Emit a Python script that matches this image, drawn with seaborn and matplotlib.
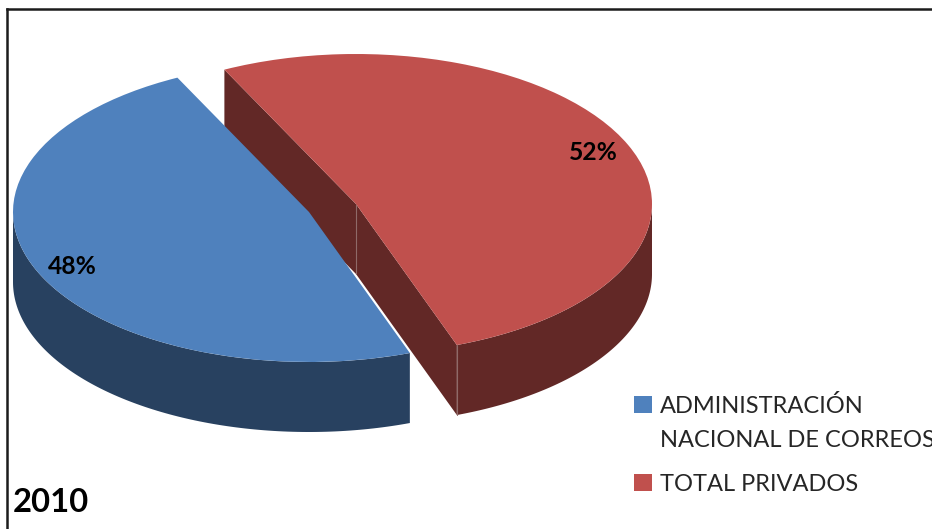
import numpy as np
import matplotlib
matplotlib.use("Agg")
import matplotlib.pyplot as plt
from matplotlib.patches import Patch
import seaborn as sns

categories = ["ADMINISTRACIÓN\nNACIONAL DE CORREOS", "TOTAL PRIVADOS"]
shares = [48.2, 51.8]
year_label = "2010"
colors_top = ["#4F81BD", "#C0504D"]
colors_side = ["#284160", "#622826"]

sns.set_theme(style="white")
plt.rcParams["font.family"] = ["Lato", "DejaVu Sans"]

W, H = 932, 529
RX, RY = 296, 150           # pixel size of one pie radius on screen
CX, CY = 309, 212           # pixel position of the pie centre
DEPTH = 70 / RY             # extrusion
START = 116.4
OFFSET = (47 / RX, 8 / RY)  # how far the second slice is pulled out

fig = plt.figure(figsize=(W / 100, H / 100), dpi=100, facecolor="white")
ax = fig.add_axes([7 / W, 0, (W - 7) / W, (H - 9) / H])

wedges, _ = ax.pie(shares, colors=colors_top, startangle=START, counterclock=True,
                   radius=1, wedgeprops=dict(linewidth=0), frame=True)
wedges[1].set_center(OFFSET)
ax.set_aspect("auto")
ax.set_xlim((7 - CX) / RX, (W - CX) / RX)
ax.set_ylim((CY - H) / RY, (CY - 9) / RY)
ax.set_xticks([])
ax.set_yticks([])
for name, sp in ax.spines.items():
    sp.set_visible(name in ("top", "left"))
    sp.set_color("#1c1c1c")
    sp.set_linewidth(1.8)

total = sum(shares)
a0 = START
a1 = START + 360 * shares[0] / total
a2 = START + 360


def pt(angle, centre=(0, 0), drop=0.0):
    t = np.radians(angle)
    return centre[0] + np.cos(t), centre[1] + np.sin(t) - drop


def outer_wall(a_from, a_to, centre, color, z):
    t = np.radians(np.linspace(a_from, a_to, 120))
    xs = centre[0] + np.cos(t)
    ys = centre[1] + np.sin(t)
    ax.fill(np.r_[xs, xs[::-1]], np.r_[ys, ys[::-1] - DEPTH], color=color, lw=0, zorder=z)


# walls of the pulled-out slice, below the other slice
cx_r, cy_r = OFFSET
for ang in (a1, a2):
    px, py = pt(ang, OFFSET)
    ax.fill([cx_r, px, px, cx_r], [cy_r, py, py - DEPTH, cy_r - DEPTH],
            color=colors_side[1], lw=0, zorder=0.5)
outer_wall(a1, 360, OFFSET, colors_side[1], 0.5)
for x_edge, y_top in [(cx_r, cy_r), (pt(a1, OFFSET)[0], pt(a1, OFFSET)[1])]:
    ax.plot([x_edge, x_edge], [y_top, y_top - DEPTH], color="#8f6a68", lw=0.8, zorder=0.6)

# wall of the first slice, then the top faces stay above everything
outer_wall(180, a1, (0, 0), colors_side[0], 0.7)
wedges[0].set_zorder(1.0)
wedges[1].set_zorder(1.1)

# value labels
for value, (px, py) in zip(shares, [(72, 266), (593, 153)]):
    fig.text(px / W, 1 - py / H, f"{round(value)}%", ha="center", va="center",
             fontsize=17.7, fontweight="bold", color="black")

fig.text(13 / W, 1 - 503 / H, year_label, ha="left", va="center",
         fontsize=23.6, fontweight="bold", color="black")

# legend
blue_lines = categories[0].split("\n")
leg1 = ax.legend(
    handles=[Patch(color=colors_top[0], lw=0), Patch(color="none", lw=0)],
    labels=blue_lines, loc="upper left", bbox_to_anchor=(629 / W, 1 - 390 / H),
    bbox_transform=fig.transFigure, frameon=False, fontsize=17, handlelength=0.78,
    handleheight=0.78, handletextpad=0.34, labelspacing=0.54, borderpad=0.2, borderaxespad=0,
)
ax.add_artist(leg1)
ax.legend(
    handles=[Patch(color=colors_top[1], lw=0)], labels=[categories[1]], loc="upper left",
    bbox_to_anchor=(629 / W, 1 - 469 / H), bbox_transform=fig.transFigure, frameon=False,
    fontsize=17, handlelength=0.78, handleheight=0.78, handletextpad=0.34,
    borderpad=0.2, borderaxespad=0,
)

fig.savefig("out.png", dpi=100)
